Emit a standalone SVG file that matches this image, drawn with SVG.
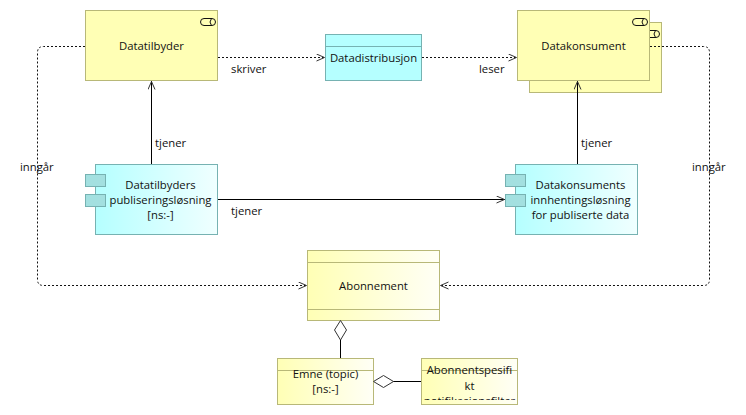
<svg xmlns="http://www.w3.org/2000/svg" width="746" height="415" viewBox="0 0 746 415">
<style>
text{font-family:"Open Sans","Noto Sans","Liberation Sans",sans-serif;font-size:11.3px;fill:#111;text-anchor:middle}
.lbl{text-anchor:start}
.y{fill:#ffffb5;stroke:#b8b878}
.yg{fill:url(#gy);stroke:#b8b878}
.cg{fill:url(#gc);stroke:#76b2b2}
.c{fill:#b5ffff;stroke:#76b2b2}
.tab{fill:#a3e0e0;stroke:#76b2b2}
.d{fill:none;stroke:#111;stroke-width:1;stroke-dasharray:2 2}
.s{fill:none;stroke:#000;stroke-width:1}
.dia{fill:#fff;stroke:#333;stroke-width:1}
.ic{fill:none;stroke:#111;stroke-width:1}
</style>
<defs>
<linearGradient id="gy"><stop offset="0" stop-color="#ffffb5"/><stop offset="1" stop-color="#fffff6"/></linearGradient>
<linearGradient id="gc"><stop offset="0" stop-color="#b5ffff"/><stop offset="1" stop-color="#f0ffff"/></linearGradient>
<marker id="open" markerWidth="12" markerHeight="10" refX="9.5" refY="4" orient="auto" markerUnits="userSpaceOnUse"><path d="M1 0.5L9 4L1 7.5" fill="none" stroke="#333" stroke-width="1"/></marker>
<clipPath id="clip"><rect x="422" y="359" width="95" height="41"/></clipPath>
</defs>
<rect width="746" height="415" fill="#fff"/>
<g id="datatilbyder">
<rect class="y" x="85.5" y="10.5" width="132" height="70"/>
<rect class="ic" x="200.5" y="18.5" width="15" height="7" rx="3.5"/><path class="ic" d="M211.5 18.5Q208.5 22 211.5 25.5"/>
<text x="151.5" y="50">Datatilbyder</text>
</g>
<g id="datadistribusjon">
<rect class="c" x="325.5" y="34.5" width="96" height="46"/>
<path class="c" d="M325.5 46.5H421.5"/>
<text x="373.5" y="62">Datadistribusjon</text>
</g>
<g id="datakonsument">
<rect class="y" x="529.5" y="22.5" width="132" height="70"/>
<rect class="ic" x="644.5" y="30.5" width="15" height="7" rx="3.5"/><path class="ic" d="M655.5 30.5Q652.5 34 655.5 37.5"/>
<rect class="y" x="517.5" y="10.5" width="132" height="70"/>
<rect class="ic" x="632.5" y="18.5" width="15" height="7" rx="3.5"/><path class="ic" d="M643.5 18.5Q640.5 22 643.5 25.5"/>
<text x="583.5" y="50">Datakonsument</text>
</g>
<g id="publisering">
<rect class="cg" x="95.5" y="164.5" width="122" height="70"/>
<rect class="tab" x="85.5" y="174.5" width="20" height="12"/>
<rect class="tab" x="85.5" y="194.5" width="20" height="12"/>
<text x="160.5" y="189">Datatilbyders</text>
<text x="160.5" y="204">publiseringsløsning</text>
<text x="160.5" y="219">[ns:-]</text>
</g>
<g id="innhenting">
<rect class="cg" x="515.5" y="164.5" width="122" height="70"/>
<rect class="tab" x="505.5" y="174.5" width="20" height="12"/>
<rect class="tab" x="505.5" y="194.5" width="20" height="12"/>
<text x="580.5" y="189">Datakonsuments</text>
<text x="580.5" y="204">innhentingsløsning</text>
<text x="580.5" y="219">for publiserte data</text>
</g>
<g id="abonnement">
<rect class="yg" x="307.5" y="250.5" width="132" height="70"/>
<path class="y" d="M307.5 262.5H439.5M307.5 309.5H439.5"/>
<text x="373.5" y="290">Abonnement</text>
</g>
<g id="emne">
<rect class="yg" x="277.5" y="358.5" width="96" height="46"/>
<path class="y" d="M277.5 370.5H373.5"/>
<text x="325.5" y="378">Emne (topic)</text>
<text x="325.5" y="393">[ns:-]</text>
</g>
<g id="abonnentspesifikt">
<rect class="yg" x="421.5" y="358.5" width="96" height="46"/>
<path class="y" d="M421.5 370.5H517.5"/>
<g clip-path="url(#clip)">
<text x="469.5" y="374">Abonnentspesifi</text>
<text x="469.5" y="390">kt</text>
<text x="469.5" y="405">notifikasjonsfilter</text>
</g>
</g>
<g id="connectors">
<path class="d" d="M85 46.5H43.5Q37.5 46.5 37.5 52.5V279.5Q37.5 285.5 43.5 285.5H307" marker-end="url(#open)"/>
<path class="d" d="M650 46.5H703.5Q709.5 46.5 709.5 52.5V279.5Q709.5 285.5 703.5 285.5H440" marker-end="url(#open)"/>
<path class="d" d="M218 57.5H325" marker-end="url(#open)"/>
<path class="d" d="M422 57.5H517" marker-end="url(#open)"/>
<path class="s" d="M151.5 164V81" marker-end="url(#open)"/>
<path class="s" d="M577.5 164V81" marker-end="url(#open)"/>
<path class="s" d="M218 199.5H505" marker-end="url(#open)"/>
<path class="s" d="M340.5 358V340"/>
<path class="s" d="M421 381.5H393"/>
<path class="dia" d="M340.5 320.5L346.5 330L340.5 340L334.5 330Z"/>
<path class="dia" d="M373.5 381.5L383.5 375.5L393.5 381.5L383.5 387.5Z"/>
<text class="lbl" x="231" y="72.500">skriver</text>
<text class="lbl" x="479" y="72.500">leser</text>
<text class="lbl" x="155" y="147">tjener</text>
<text class="lbl" x="581" y="147">tjener</text>
<text class="lbl" x="231" y="215">tjener</text>
<text class="lbl" x="20" y="171">inngår</text>
<text class="lbl" x="692" y="171">inngår</text>
</g>
</svg>
